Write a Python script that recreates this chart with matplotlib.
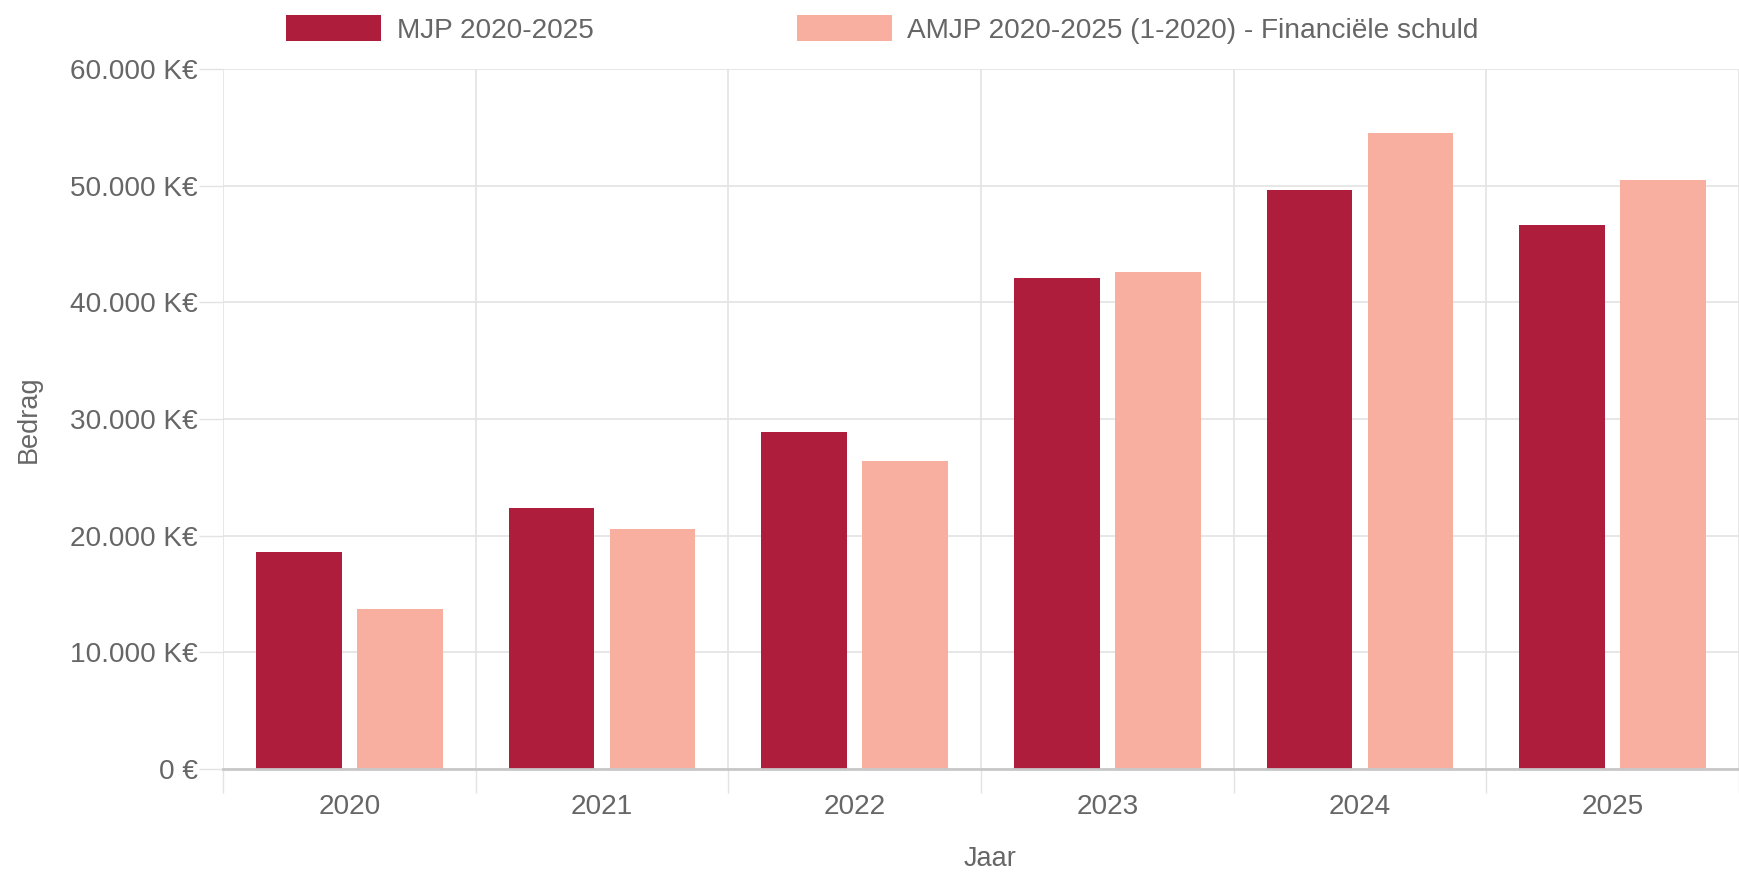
import matplotlib
matplotlib.use('Agg')
import matplotlib.pyplot as plt
import numpy as np

# data
years = ['2020', '2021', '2022', '2023', '2024', '2025']
mjp = [18600, 22400, 28900, 42100, 49600, 46600]
amjp = [13700, 20600, 26400, 42600, 54500, 50500]
series_names = ['MJP 2020-2025', 'AMJP 2020-2025 (1-2020) - Financiële schuld']
y_ticks = [0, 10000, 20000, 30000, 40000, 50000, 60000]
y_tick_labels = ['0 €', '10.000 K€', '20.000 K€', '30.000 K€', '40.000 K€', '50.000 K€', '60.000 K€']

dark = '#AE1E3C'
pink = '#F9AFA0'
grey_txt = '#666666'
grid_col = '#E3E3E3'

plt.rcParams['font.family'] = ['Liberation Sans', 'DejaVu Sans']
plt.rcParams['font.size'] = 20.2

fig = plt.figure(figsize=(17.39, 8.73), dpi=100)
W, H = 1739, 873
left_px, top_px, bottom_px = 223, 69, 769
ax = fig.add_axes([left_px / W, 1 - bottom_px / H, 1 - left_px / W, (bottom_px - top_px) / H])

x = np.arange(len(years))
w = 0.34
b1 = ax.bar(x - 0.2, mjp, w, color=dark, label=series_names[0], zorder=3)
b2 = ax.bar(x + 0.2, amjp, w, color=pink, label=series_names[1], zorder=3)

# chart is cut off a little on the right
cat_px = 255.6
ax.set_xlim(-0.5, -0.5 + (W - left_px) / cat_px)
ax.set_ylim(0, 60000)

ax.set_yticks(y_ticks)
ax.set_yticklabels(y_tick_labels)
ax.set_xticks(x)
ax.set_xticklabels(years)
ax.set_xticks(np.arange(-0.5, len(years)), minor=True)

ax.tick_params(axis='y', which='major', length=17, width=1, color=grid_col, pad=1, labelcolor=grey_txt)
ax.tick_params(axis='x', which='major', length=0, pad=18, labelcolor=grey_txt)
ax.tick_params(axis='x', which='minor', length=17, width=1, color=grid_col)

ax.grid(axis='y', which='major', color=grid_col, linewidth=1.2, zorder=0)
ax.grid(axis='x', which='minor', color=grid_col, linewidth=1.2, zorder=0)

for s in ['top', 'right', 'left']:
    ax.spines[s].set_visible(False)
ax.spines['bottom'].set_color('#C8C8C8')
ax.spines['bottom'].set_linewidth(2)
ax.spines['bottom'].set_zorder(4)

ax.set_ylabel('Bedrag', color=grey_txt, fontsize=19.5)
ax.yaxis.set_label_coords(-0.128, 0.5)
ax.set_xlabel('Jaar', color=grey_txt, fontsize=19.5)
ax.xaxis.set_label_coords(3 * cat_px / (W - left_px), -0.129)
ax.xaxis.label.set_va('center')
ax.yaxis.label.set_va('center')

leg = fig.legend(handles=[b1, b2], loc='center left', bbox_to_anchor=(286 / W, 1 - 29.5 / H),
                 ncol=2, frameon=False, borderpad=0, borderaxespad=0,
                 handlelength=3.4, handleheight=1.05, handletextpad=0.54,
                 columnspacing=7.25, fontsize=20.2)
for t in leg.get_texts():
    t.set_color(grey_txt)

fig.savefig('out.png', dpi=100)
